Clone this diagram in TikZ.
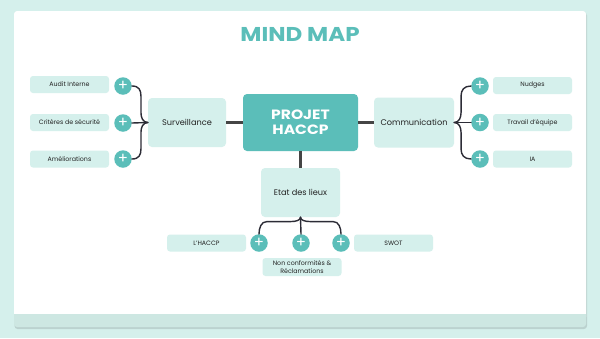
\documentclass[tikz,border=0pt]{standalone}
\usepackage{fontspec}
\setmainfont{Poppins}
\newfontfamily\widefont{Poppins}[FakeStretch=1.15]
\usetikzlibrary{positioning}

\definecolor{bgteal}{HTML}{D5F0EC}
\definecolor{mainteal}{HTML}{5BBEB9}
\definecolor{ink}{HTML}{222222}
\definecolor{linegray}{HTML}{454545}
\definecolor{bracegray}{HTML}{2C2C36}

\tikzset{
  topic/.style={rectangle, rounded corners=4pt, fill=bgteal, minimum width=78pt, minimum height=49pt, text=ink, font=\fontsize{8.2}{10}\selectfont},
  leaf/.style={rectangle, rounded corners=3pt, fill=bgteal, minimum width=79pt, minimum height=17pt, text=ink, align=center, font=\fontsize{6.3}{7.4}\selectfont},
  plus/.style={circle, fill=mainteal, minimum size=17.5pt, inner sep=0pt, text=white, font=\fontsize{15}{15}\selectfont},
  link/.style={line width=2.2pt, draw=linegray},
  curl/.style={line width=1.4pt, draw=bracegray, line cap=round},
}

\begin{document}
\begin{tikzpicture}[x=1pt, y=-1pt]
  \useasboundingbox[fill=bgteal] (0,0) rectangle (600,338);
  % card
  \fill[black, opacity=0.12, rounded corners=3pt] (14.5,12.5) rectangle (587,329);
  \fill[bgteal!96!black, rounded corners=3pt] (14,11) rectangle (586,327);
  \fill[white, rounded corners=3pt] (14,11) rectangle (586,320);
  \fill[bgteal!96!black] (14,314) rectangle (586,321);

  \node[text=mainteal, font=\widefont\bfseries\fontsize{20}{22}\selectfont] (title) at (300,34) {MIND MAP};

  % centre and main topics
  \node[rectangle, rounded corners=4pt, fill=mainteal, minimum width=115pt, minimum height=57pt, text=white, align=center, font=\widefont\bfseries\fontsize{13.5}{15}\selectfont] (projet) at (300.5,122.5) {PROJET\\HACCP};
  \node[topic] (surv) at (187,122.5) {Surveillance};
  \node[topic, minimum width=80pt, minimum height=50pt] (comm) at (414,122.5) {Communication};
  \node[topic, minimum width=79pt] (etat) at (300.5,192.5) {Etat des lieux};

  \draw[link] (surv.east) -- (projet.west);
  \draw[link] (projet.east) -- (comm.west);
  \draw[link] (projet.south) -- (etat.north);

  % left branch
  \node[plus] (pl1) at (123,86) {+};
  \node[plus] (pl2) at (123,123) {+};
  \node[plus] (pl3) at (123,159) {+};
  \node[leaf] (audit) at (69.5,84.5) {Audit Interne};
  \node[leaf] (crit) at (69.5,122.5) {Critères de sécurité};
  \node[leaf] (amel) at (69.5,159) {Améliorations};

  \draw[curl] (pl1.east) .. controls +(7,0) and +(0,-6) .. ++(9,10) -- ++(0,16.5)
    .. controls +(0,5) and +(-5,0) .. (surv.west);
  \draw[curl] (pl3.east) .. controls +(7,0) and +(0,6) .. ++(9,-10) -- ++(0,-16.5)
    .. controls +(0,-5) and +(-5,0) .. (surv.west);
  \draw[curl] (pl2.east) -- (surv.west);

  % right branch
  \node[plus] (pr1) at (480,86) {+};
  \node[plus] (pr2) at (480,122.5) {+};
  \node[plus] (pr3) at (480,159) {+};
  \node[leaf] (nudges) at (532.5,85.5) {Nudges};
  \node[leaf] (travail) at (532.5,122.5) {Travail d'équipe};
  \node[leaf] (ia) at (532.5,159) {IA};

  \draw[curl] (pr1.west) .. controls +(-7,0) and +(0,-6) .. ++(-10,10) -- ++(0,16.5)
    .. controls +(0,5) and +(5,0) .. (comm.east);
  \draw[curl] (pr3.west) .. controls +(-7,0) and +(0,6) .. ++(-10,-10) -- ++(0,-16.5)
    .. controls +(0,-5) and +(5,0) .. (comm.east);
  \draw[curl] (pr2.west) -- (comm.east);

  % bottom branch
  \node[plus] (pb1) at (259,243) {+};
  \node[plus] (pb2) at (301,243) {+};
  \node[plus] (pb3) at (341,243) {+};
  \node[leaf] (haccp) at (206.5,243) {L'HACCP};
  \node[leaf] (swot) at (393.5,243) {SWOT};
  \node[leaf, minimum height=18pt, inner sep=1pt] (nonconf) at (302,267) {Non conformités \&\\Réclamations};

  \draw[curl] (pb1.north) .. controls +(0,-6) and +(-6,0) .. ++(8,-12.5) -- ++(24,0)
    .. controls +(5,0) and +(0,3) .. (etat.south);
  \draw[curl] (pb3.north) .. controls +(0,-6) and +(6,0) .. ++(-8,-12.5) -- ++(-23,0)
    .. controls +(-5,0) and +(0,3) .. (etat.south);
  \draw[curl] (pb2.north) -- (etat.south);
\end{tikzpicture}
\end{document}
